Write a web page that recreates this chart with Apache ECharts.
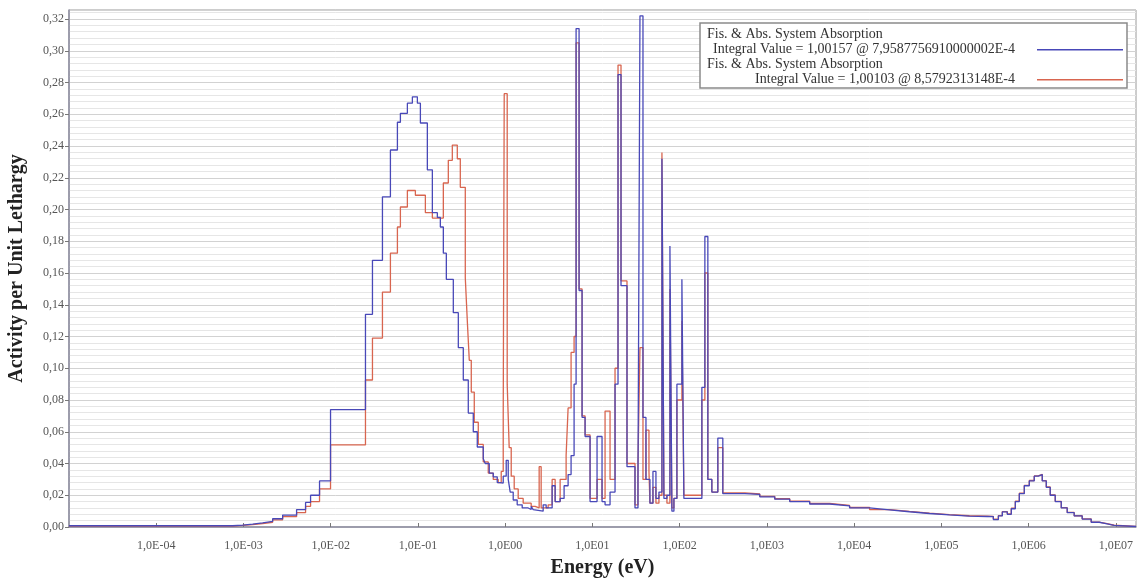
<!DOCTYPE html>
<html>
<head>
<meta charset="utf-8">
<script src="https://cdn.jsdelivr.net/npm/echarts@6/dist/echarts.min.js"></script>
<style>html,body{margin:0;padding:0;background:#fff}#c{width:1137px;height:581px}</style>
</head>
<body>
<div id="c"></div>
<script>
const seriesNames = [
  'Fis. & Abs. System Absorption\n Integral Value = 1,00157 @ 7,9587756910000002E-4',
  'Fis. & Abs. System Absorption\nIntegral Value = 1,00103 @ 8,5792313148E-4'
];
const seriesColors = ['#4848b8', '#d8654f'];

const blueEnergy = [1.0e-5,7.52e-4,9.79e-4,1.274e-3,1.659e-3,2.159e-3,2.81e-3,4.062e-3,5.149e-3,5.875e-3,7.443e-3,9.95e-3,
  0.02502,0.03009,0.03916,0.04833,0.05813,0.06289,0.07563,0.0863,0.09847,0.1066,0.1281,0.1462,0.1668,0.1805,0.1953,0.2114,
  0.2542,0.2901,0.3308,0.3774,0.4305,0.4785,0.5604,0.5907,0.6563,0.7292,0.8103,0.8768,0.949,1.027,1.083,1.141,1.235,1.372,
  1.566,1.834,1.985,2.092,2.205,2.723,2.947,3.451,3.736,4.262,4.732,5.26,5.69,6.16,6.494,7.026,7.605,8.232,9.391,11.29,
  12.88,13.95,15.91,18.15,19.64,21.25,24.89,30.74,33.25,35.05,37.95,41.06,45.62,49.38,53.44,57.84,62.59,65.98,71.41,77.29,
  81.43,85.89,92.95,106.0,111.7,179.6,194.4,210.3,233.7,273.7,312.2,557.3,827.9,1229,1825,3090,5234,8863,15020,25430,43080,
  72950,123600,209400,336500,393900,449800,499100,569300,632400,703200,781600,891500,1.017e6,1.159e6,1.288e6,1.432e6,1.592e6,
  1.767e6,2.017e6,2.364e6,2.767e6,3.326e6,4.109e6,5.21e6,6.427e6,7.943e6,9.55e6,1.7e7];
const blueValue = [0.0008,0.0012,0.0018,0.0026,0.0036,0.0052,0.0075,0.011,0.0155,0.02,0.029,0.074,
  0.134,0.168,0.208,0.2375,0.255,0.2606,0.267,0.271,0.267,0.2545,0.225,0.198,0.195,0.189,0.1725,0.156,
  0.135,0.113,0.0926,0.0718,0.06,0.0504,0.043,0.04,0.034,0.0316,0.028,0.0277,0.032,0.042,0.03,0.022,0.017,0.014,
  0.012,0.011,0.013,0.011,0.01,0.014,0.012,0.026,0.016,0.018,0.026,0.033,0.045,0.09,0.314,0.149,0.069,0.057,0.016,0.057,
  0.016,0.014,0.022,0.09,0.285,0.152,0.038,0.012,0.03,0.322,0.069,0.03,0.015,0.035,0.018,0.022,0.232,0.018,0.02,0.177,
  0.01,0.018,0.09,0.156,0.018,0.088,0.183,0.03,0.022,0.056,0.021,0.0205,0.019,0.0175,0.016,0.0145,0.0133,0.012,0.0108,0.0096,0.0085,
  0.0076,0.0069,0.0066,0.0065,0.0047,0.007,0.0095,0.008,0.0115,0.016,0.021,0.026,0.029,0.032,0.033,0.029,0.025,
  0.02,0.016,0.012,0.009,0.007,0.005,0.003,0.002,0.001,0.0003,0.0003];

const redEnergy = [1.0e-5,7.52e-4,9.79e-4,1.274e-3,1.659e-3,2.159e-3,2.81e-3,4.062e-3,5.149e-3,5.875e-3,7.443e-3,9.95e-3,
  0.02502,0.03009,0.03916,0.04833,0.05813,0.06289,0.07563,0.09341,0.1216,0.1462,0.1953,0.2228,0.2476,0.2824,0.3057,
  0.3487,0.3676,0.3874,0.4084,0.442,0.4913,0.5604,0.6392,0.7292,0.832,0.9002,0.949,0.9743,1.054,1.111,1.172,1.268,1.409,
  1.607,1.985,2.205,2.45,2.583,3.106,3.451,3.736,4.262,4.991,5.26,5.69,6.16,6.494,7.026,7.605,8.232,9.391,11.29,12.88,
  13.95,15.91,18.15,19.64,21.25,24.89,30.74,33.25,35.05,37.95,41.06,44.44,45.62,49.38,53.44,57.84,62.59,65.98,71.41,77.29,
  81.43,85.89,92.95,106.0,111.7,179.6,194.4,210.3,233.7,273.7,312.2,557.3,827.9,1229,1825,3090,5234,8863,15020,25430,43080,
  72950,123600,209400,336500,393900,449800,499100,569300,632400,703200,781600,891500,1.017e6,1.159e6,1.288e6,1.432e6,1.592e6,
  1.767e6,2.017e6,2.364e6,2.767e6,3.326e6,4.109e6,5.21e6,6.427e6,7.943e6,9.55e6,1.7e7];
const redValue = [0.0006,0.001,0.0015,0.0022,0.003,0.0045,0.0065,0.009,0.013,0.016,0.024,0.0517,
  0.0926,0.119,0.148,0.1725,0.189,0.2016,0.212,0.209,0.198,0.1946,0.2167,0.231,0.2406,0.232,0.214,
  0.157,0.13,0.105,0.085,0.066,0.052,0.041,0.034,0.03,0.028,0.035,0.07,0.273,0.09,0.05,0.032,0.024,0.018,
  0.015,0.013,0.012,0.038,0.012,0.014,0.03,0.016,0.03,0.045,0.075,0.11,0.12,0.305,0.15,0.07,0.058,0.018,0.03,0.018,
  0.073,0.03,0.1,0.291,0.155,0.04,0.014,0.04,0.113,0.03,0.061,0.035,0.015,0.025,0.015,0.02,0.236,0.02,0.015,0.15,
  0.012,0.018,0.08,0.13,0.02,0.08,0.16,0.03,0.022,0.05,0.0215,0.0208,0.0193,0.0178,0.0163,0.0148,0.0136,0.0123,0.011,0.0098,0.0087,
  0.0078,0.0071,0.0068,0.0067,0.005,0.0072,0.0097,0.0083,0.0118,0.0163,0.0213,0.0262,0.0293,0.0322,0.0332,0.0292,0.0252,
  0.0202,0.0162,0.0122,0.0092,0.0071,0.0051,0.0031,0.0021,0.0011,0.0004,0.0004];

const xMin = 1e-5, xMax = 1.7e7;
const yMax = 0.3257, yStep = 0.02;

function pairs(xs, ys) { return xs.map((x, i) => [x, ys[i]]); }
function fmtX(v) {
  const l = Math.log10(v), e = Math.round(l);
  if (Math.abs(l - e) > 1e-6) return '';
  return '1,0E' + (e < 0 ? '-' : '') + String(Math.abs(e)).padStart(2, '0');
}
const serif = "'Liberation Serif', 'DejaVu Serif', serif";

const chart = echarts.init(document.getElementById('c'), null, {renderer: 'canvas'});
chart.setOption({
  animation: false,
  backgroundColor: '#fff',
  grid: {left: 69, right: 1, top: 10, bottom: 54, show: true, borderColor: '#9a9a9a', borderWidth: 1,
         backgroundColor: 'transparent', containLabel: false, outerBoundsMode: 'none'},
  xAxis: {
    type: 'log', logBase: 10, min: xMin, max: xMax, interval: 1,
    name: 'Energy (eV)', nameLocation: 'middle', nameGap: 31,
    nameTextStyle: {fontFamily: serif, fontWeight: 'bold', fontSize: 20, color: '#222'},
    axisLine: {show: true, lineStyle: {color: '#8c8ca0', width: 1.5}},
    axisTick: {show: true, inside: true, length: 4, lineStyle: {color: '#777'}},
    axisLabel: {formatter: fmtX, showMinLabel: false, showMaxLabel: false, fontFamily: serif, fontSize: 12, color: '#555', margin: 13},
    splitLine: {show: false}, minorTick: {show: false}, minorSplitLine: {show: false}
  },
  yAxis: {
    type: 'value', min: 0, max: yMax, interval: yStep,
    name: 'Activity per Unit Lethargy', nameLocation: 'middle', nameGap: 42,
    nameTextStyle: {fontFamily: serif, fontWeight: 'bold', fontSize: 20, color: '#222'},
    axisLine: {show: true, lineStyle: {color: '#8c8ca0', width: 1.5}},
    axisTick: {show: true, length: 4, lineStyle: {color: '#777'}},
    axisLabel: {formatter: v => v.toFixed(2).replace('.', ','), showMaxLabel: false, fontFamily: serif, fontSize: 12, color: '#555', margin: 5},
    splitLine: {show: true, lineStyle: {color: '#d2d2d2', width: 1}},
    minorTick: {show: false, splitNumber: 5},
    minorSplitLine: {show: true, lineStyle: {color: '#e6e6e6', width: 1}}
  },
  legend: {
    orient: 'vertical', left: 700, top: 23, align: 'right',
    padding: [4, 4, 1, 7], itemGap: 0, itemWidth: 103, itemHeight: 30,
    backgroundColor: '#fff', borderColor: '#8a8a8a', borderWidth: 1.5,
    selectedMode: false,
    data: seriesNames.map((n, i) => ({
      name: n,
      icon: 'path://M0,0 M0,30 M17,22 L103,22 L103,23.5 L17,23.5 Z',
      itemStyle: {color: seriesColors[i], borderWidth: 0}
    })),
    formatter: n => {
      const parts = n.split('\n');
      return '{a|' + parts[0] + '}\n{b|' + parts[1] + '}';
    },
    textStyle: {
      fontFamily: serif, fontSize: 14, color: '#333',
      rich: {
        a: {width: 308, align: 'left', fontFamily: serif, fontSize: 14, lineHeight: 15, color: '#333'},
        b: {width: 308, align: 'right', fontFamily: serif, fontSize: 14, lineHeight: 15, color: '#333'}
      }
    }
  },
  series: [
    {name: seriesNames[0], type: 'line', step: 'end', showSymbol: false, z: 4,
     data: pairs(blueEnergy, blueValue), lineStyle: {color: seriesColors[0], width: 1.3}, itemStyle: {color: seriesColors[0]}},
    {name: seriesNames[1], type: 'line', step: 'end', showSymbol: false, z: 3,
     data: pairs(redEnergy, redValue), lineStyle: {color: seriesColors[1], width: 1.3}, itemStyle: {color: seriesColors[1]}}
  ]
});
</script>
</body>
</html>
